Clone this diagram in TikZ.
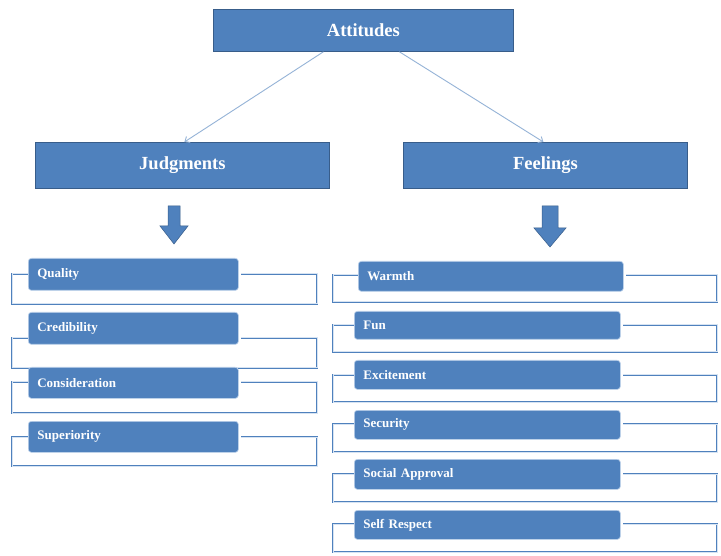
\documentclass[tikz,border=0pt]{standalone}
\usepackage{fontspec}
\setmainfont{Liberation Serif}
\usetikzlibrary{arrows.meta,backgrounds}
\definecolor{boxblue}{RGB}{79,129,189}
\definecolor{boxedge}{RGB}{56,93,138}
\definecolor{linkblue}{RGB}{149,179,215}
\definecolor{brlight}{RGB}{214,227,242}
\definecolor{itemedge}{RGB}{190,210,235}
\newcommand\drawbracket[5]{\draw[bracket,shorten >=2pt] (#1.west |- 0,#2) -| (#3,#5) -| (#4,#2) -- (#1.east |- 0,#2);}
\begin{document}
\begin{tikzpicture}[x=1pt,y=-1pt,
  head/.style={draw=boxedge, line width=0.8pt, fill=boxblue, text=white,
    font=\bfseries\fontsize{18.5}{22}\selectfont, inner sep=0pt, anchor=north west},
  item/.style={draw=itemedge, line width=0.7pt, fill=boxblue, rounded corners=3pt,
    text=white, font=\bfseries\fontsize{13}{15}\selectfont, anchor=north west,
    inner xsep=9pt, inner ysep=0pt, align=left},
  bracket/.style={draw=boxblue, line width=0.8pt, double=brlight, double distance=1pt},
  conn/.style={draw=linkblue, line width=0.9pt, -{Straight Barb[length=4pt,width=7pt]}},
  blockarrow/.style={fill=boxblue, draw=boxedge, line width=0.5pt, line join=miter}]
\useasboundingbox (0,0) rectangle (721,556);

% header boxes
\node[head, minimum width=300pt, minimum height=42pt] (att) at (213,9) {Attitudes};
\node[head, minimum width=294pt, minimum height=46pt] (jud) at (35,142) {Judgments};
\node[head, minimum width=284pt, minimum height=46pt] (fee) at (403,142) {Feelings};

% connectors
\draw[conn] ([xshift=-40pt]att.south) -- ([xshift=2pt]jud.north);
\draw[conn] ([xshift=36pt]att.south) -- ([xshift=-2pt]fee.north);

% block arrows
\draw[blockarrow, shift={(174,206)}] (-6,0) -- (6,0) -- (6,20) -- (14,20) -- (0,38) -- (-14,20) -- (-6,20) -- cycle;
\draw[blockarrow, shift={(550,206)}] (-8,0) -- (8,0) -- (8,22) -- (16,22) -- (0,41) -- (-16,22) -- (-8,22) -- cycle;

% left items
\node[item, text width=192pt, minimum height=32pt] (qua) at (28,258) {Quality};
\node[item, text width=192pt, minimum height=32pt] (cre) at (28,312) {Credibility};
\node[item, text width=192pt, minimum height=31pt] (con) at (28,367) {Consideration};
\node[item, text width=192pt, minimum height=31pt] (sup) at (28,421) {Superiority};

% right items
\node[item, text width=247pt, minimum height=30pt] (war) at (358,261) {Warmth};
\node[item, text width=248pt, minimum height=28pt] (fun) at (354,311) {Fun};
\node[item, text width=248pt, minimum height=29pt] (exc) at (354,360) {Excitement};
\node[item, text width=248pt, minimum height=29pt] (sec) at (354,410) {Security};
\node[item, text width=248pt, minimum height=30pt] (soc) at (354,459) {Social Approval};
\node[item, text width=248pt, minimum height=29pt] (sel) at (354,510) {Self Respect};

\begin{pgfonlayer}{background}
\fill[white] (0,0) rectangle (721,556);
\drawbracket{qua}{274}{12}{317}{304}
\drawbracket{cre}{338}{12}{317}{368}
\drawbracket{con}{382}{12}{317}{413}
\drawbracket{sup}{437}{12}{317}{466}
\drawbracket{war}{275}{333}{717}{302}
\drawbracket{fun}{325}{333}{717}{352}
\drawbracket{exc}{375}{333}{717}{402}
\drawbracket{sec}{424}{333}{717}{452}
\drawbracket{soc}{474}{333}{717}{502}
\drawbracket{sel}{524}{333}{717}{552}
\end{pgfonlayer}
\end{tikzpicture}
\end{document}
